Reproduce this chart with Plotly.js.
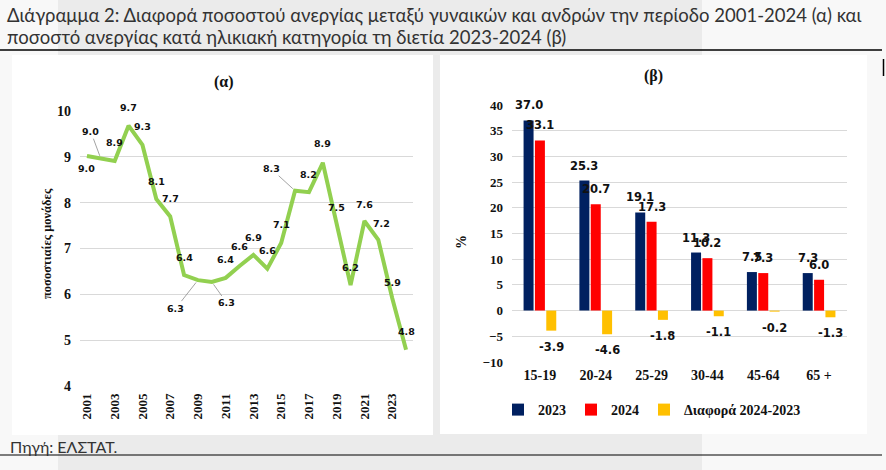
<!DOCTYPE html>
<html>
<head>
<meta charset="utf-8">
<script src="https://cdn.plot.ly/plotly-3.0.1.min.js"></script>
<style>
  html, body { margin: 0; padding: 0; background: #f8f8f8; }
  #chart { width: 886px; height: 470px; }
</style>
</head>
<body>
<div id="chart"></div>
<script>
// (α) Διαφορά ποσοστού ανεργίας γυναικών - ανδρών, ποσοστιαίες μονάδες
const years = [2001, 2002, 2003, 2004, 2005, 2006, 2007, 2008, 2009, 2010, 2011, 2012,
               2013, 2014, 2015, 2016, 2017, 2018, 2019, 2020, 2021, 2022, 2023, 2024];
const gapValues = [9.02, 8.96, 8.91, 9.68, 9.26, 8.08, 7.7, 6.42, 6.31, 6.27, 6.36, 6.62,
                   6.86, 6.56, 7.12, 8.26, 8.23, 8.87, 7.5, 6.2, 7.6, 7.19, 5.92, 4.79];
const yearTicks = [2001, 2003, 2005, 2007, 2009, 2011, 2013, 2015, 2017, 2019, 2021, 2023];

// (β) Ποσοστό ανεργίας κατά ηλικιακή κατηγορία
const ageGroups = ['15-19', '20-24', '25-29', '30-44', '45-64', '65 +'];
const rate2023 = [37.0, 25.3, 19.1, 11.3, 7.5, 7.3];
const rate2024 = [33.1, 20.7, 17.3, 10.2, 7.3, 6.0];
const diff = [-3.9, -4.6, -1.8, -1.1, -0.2, -1.3];

// θέση ετικετών της γραμμής (dx, dy σε px, γραμμή οδηγός)
const labelPos = [
  [0, 13, false], [-10, -27, true], [0, -18, false], [0, -18, false], [0, -18, false],
  [0, -18, false], [0, -18, false], [0, -18, false], [-22, 28, true], [15, 21, true],
  [0, -18, false], [0, -19, false], [0, -17, false], [0, -18, false], [0, -19, false],
  [-24, -22, true], [0, -18, false], [0, -19, false], [0, -18, false], [0, -18, false],
  [0, -17, false], [3, -16, false], [0, -16, false], [0, -18, false]
];

const W = 886, H = 470;
const px = (v) => v / W;
const py = (v) => 1 - v / H;

const lblFont = { family: 'DejaVu Sans', size: 9.5, color: '#111', weight: 'bold' };
const barLblFont = { family: 'DejaVu Sans', size: 11.5, color: '#111', weight: 'bold' };
const tickFont = { family: 'Liberation Serif', size: 13, color: '#111', weight: 'bold' };

const lineTrace = {
  x: years,
  y: gapValues,
  type: 'scatter',
  mode: 'lines',
  line: { color: '#92D050', width: 4 },
  xaxis: 'x', yaxis: 'y',
  showlegend: false,
  hoverinfo: 'skip'
};

function barTrace(name, vals, color) {
  return {
    x: ageGroups, y: vals, name: '<b>' + name + '</b>', type: 'bar',
    marker: { color: color },
    xaxis: 'x2', yaxis: 'y2'
  };
}

const traces = [
  lineTrace,
  barTrace('2023', rate2023, '#002060'),
  barTrace('2024', rate2024, '#FF0000'),
  barTrace('Διαφορά 2024-2023', diff, '#FFC000')
];

const annotations = [];

// ετικέτες γραμμής
years.forEach((yr, i) => {
  const [dx, dy, leader] = labelPos[i];
  const txt = gapValues[i].toFixed(1);
  if (leader) {
    annotations.push({
      x: yr, y: gapValues[i], xref: 'x', yref: 'y', text: txt,
      showarrow: true, arrowhead: 0, arrowwidth: 0.8, arrowcolor: '#8c8c8c',
      ax: dx, ay: dy, standoff: 3, font: lblFont
    });
  } else {
    annotations.push({
      x: yr, y: gapValues[i], xref: 'x', yref: 'y', text: txt,
      showarrow: false, xshift: dx, yshift: -dy, font: lblFont
    });
  }
});

// ετικέτες ράβδων
[[rate2023, -11.3], [rate2024, 0], [diff, 11.3]].forEach(([vals, shift]) => {
  vals.forEach((v, i) => {
    annotations.push({
      x: ageGroups[i], y: v, xref: 'x2', yref: 'y2', text: v.toFixed(1),
      showarrow: false, xshift: shift, yshift: v >= 0 ? 15 : -16, font: barLblFont
    });
  });
});

// τίτλοι
function paperText(x, y, text, font, extra) {
  return Object.assign({ x: px(x), y: py(y), xref: 'paper', yref: 'paper',
    xanchor: 'center', yanchor: 'middle', showarrow: false, text: text, font: font }, extra || {});
}
const titleFont = { family: 'Lato', size: 18.5, color: '#333' };
const serifBold = (s) => ({ family: 'Liberation Serif', size: s, color: '#111', weight: 'bold' });

annotations.push(
  paperText(5, 15, 'Διάγραμμα 2: Διαφορά ποσοστού ανεργίας μεταξύ γυναικών και ανδρών την περίοδο 2001-2024 (α) και',
    titleFont, { xanchor: 'left' }),
  paperText(5, 37, 'ποσοστό ανεργίας κατά ηλικιακή κατηγορία τη διετία 2023-2024 (β)',
    titleFont, { xanchor: 'left' }),
  paperText(224, 82, '(α)', serifBold(16)),
  paperText(653, 76, '(β)', serifBold(16)),
  paperText(47, 244, 'ποσοστιαίες μονάδες', serifBold(12.5), { textangle: -90 }),
  paperText(462, 242, '%', serifBold(14), { textangle: -90 }),
  paperText(8, 446, 'Πηγή: ΕΛΣΤΑΤ.', { family: 'Lato', size: 16, color: '#333' }, { xanchor: 'left' })
);

const shapes = [
  // φόντο
  { type: 'rect', xref: 'paper', yref: 'paper', x0: px(58), x1: px(702), y0: 0, y1: 1,
    fillcolor: '#ebebeb', line: { width: 0 }, layer: 'below' },
  { type: 'rect', xref: 'paper', yref: 'paper', x0: px(12), x1: px(433), y0: py(435), y1: py(55),
    fillcolor: '#ffffff', line: { width: 0 }, layer: 'below' },
  { type: 'rect', xref: 'paper', yref: 'paper', x0: px(440), x1: px(867), y0: py(434), y1: py(55),
    fillcolor: '#ffffff', line: { width: 0 }, layer: 'below' },
  // γραμμές
  { type: 'line', xref: 'paper', yref: 'paper', x0: 0, x1: px(882), y0: py(50), y1: py(50),
    line: { color: '#000', width: 1.5 } },
  { type: 'line', xref: 'paper', yref: 'paper', x0: 0, x1: px(882), y0: py(455), y1: py(455),
    line: { color: '#000', width: 1.2 } },
  { type: 'line', xref: 'paper', yref: 'paper', x0: px(883.5), x1: px(883.5), y0: py(59), y1: py(76),
    line: { color: '#000', width: 1.5 } }
];

const layout = {
  width: W,
  height: H,
  margin: { l: 0, r: 0, t: 0, b: 0 },
  paper_bgcolor: '#f8f8f8',
  plot_bgcolor: 'rgba(0,0,0,0)',
  barmode: 'group',
  bargap: 0.39,
  bargroupgap: 0.12,
  xaxis: {
    domain: [px(80), px(413)],
    anchor: 'y',
    range: [2000.5, 2024.5],
    tickvals: yearTicks,
    tickangle: -90,
    tickfont: tickFont,
    showgrid: false,
    zeroline: false,
    ticks: '',
    ticklabelstandoff: 4
  },
  yaxis: {
    domain: [py(386), py(111)],
    anchor: 'x',
    range: [4, 10],
    dtick: 1,
    tickfont: { ...tickFont, size: 14 },
    gridcolor: '#d9d9d9',
    zeroline: false,
    ticklabelstandoff: 8
  },
  xaxis2: {
    domain: [px(512), px(847)],
    anchor: 'y2',
    tickfont: { ...tickFont, size: 14 },
    showgrid: false,
    ticks: '',
    ticklabelstandoff: 3
  },
  yaxis2: {
    domain: [py(362), py(105)],
    anchor: 'x2',
    range: [-10, 40],
    dtick: 5,
    tickfont: tickFont,
    gridcolor: '#d9d9d9',
    zeroline: true,
    zerolinecolor: '#d9d9d9',
    zerolinewidth: 1,
    ticklabelstandoff: 8
  },
  showlegend: true,
  legend: {
    orientation: 'h',
    x: px(652), xanchor: 'center',
    y: py(410), yanchor: 'middle',
    bgcolor: 'rgba(0,0,0,0)',
    font: { family: 'Liberation Serif', size: 14, color: '#111' },
    itemwidth: 30,
    traceorder: 'normal'
  },
  annotations: annotations,
  shapes: shapes
};

Plotly.newPlot('chart', traces, layout, { displayModeBar: false, staticPlot: true });
</script>
</body>
</html>
